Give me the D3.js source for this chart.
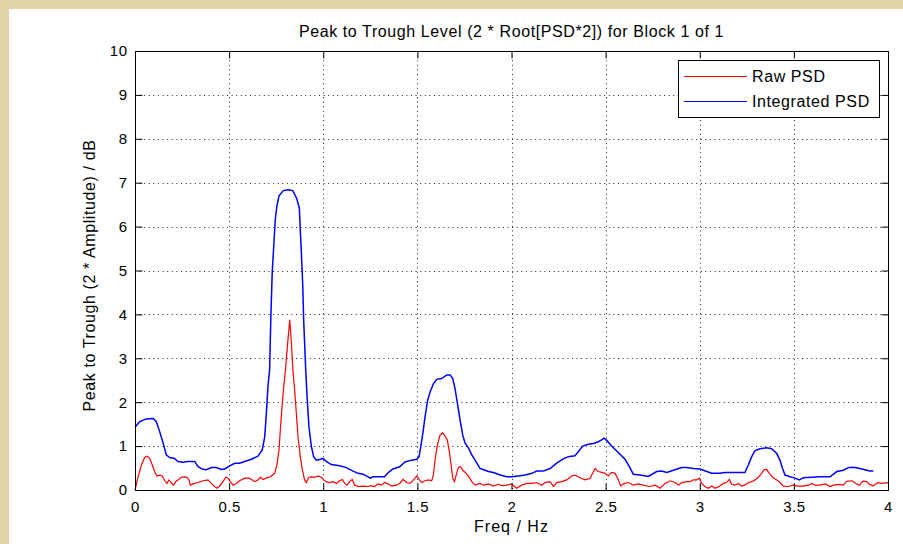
<!DOCTYPE html>
<html>
<head>
<meta charset="utf-8">
<script src="https://cdn.jsdelivr.net/npm/d3@7"></script>
<style>
  body { margin: 0; background: #ffffff; }
  svg text { font-family: "Liberation Sans", Arial, sans-serif; fill: #000; }
</style>
</head>
<body>
<svg id="chart" width="903" height="544"></svg>
<script>
// data
const blueFreq = [0.000,0.025,0.060,0.096,0.113,0.131,0.152,0.166,0.184,0.210,0.228,0.255,0.280,0.317,0.335,0.360,0.379,0.405,0.432,0.459,0.476,0.503,0.530,0.556,0.583,0.618,0.653,0.676,0.689,0.698,0.706,0.715,0.722,0.729,0.738,0.745,0.753,0.765,0.788,0.814,0.838,0.859,0.873,0.878,0.884,0.891,0.896,0.907,0.914,0.924,0.937,0.949,0.963,0.986,0.999,1.016,1.043,1.087,1.123,1.158,1.185,1.211,1.229,1.250,1.264,1.300,1.326,1.344,1.370,1.406,1.434,1.470,1.497,1.509,1.518,1.529,1.541,1.553,1.568,1.585,1.603,1.629,1.656,1.674,1.688,1.700,1.713,1.727,1.741,1.754,1.771,1.789,1.816,1.833,1.851,1.878,1.904,1.940,1.975,2.000,2.037,2.072,2.108,2.134,2.169,2.205,2.240,2.275,2.302,2.337,2.355,2.378,2.408,2.435,2.461,2.479,2.491,2.506,2.532,2.568,2.603,2.626,2.647,2.683,2.727,2.771,2.798,2.825,2.860,2.904,2.930,2.966,3.001,3.037,3.063,3.107,3.134,3.187,3.240,3.258,3.276,3.294,3.320,3.355,3.382,3.409,3.426,3.440,3.453,3.480,3.506,3.529,3.550,3.595,3.639,3.692,3.728,3.763,3.789,3.816,3.851,3.887,3.905,3.922];
const blueLevel = [1.43,1.56,1.62,1.63,1.56,1.33,1.03,0.80,0.74,0.72,0.65,0.63,0.65,0.65,0.53,0.47,0.46,0.51,0.51,0.47,0.48,0.55,0.61,0.61,0.65,0.70,0.77,0.91,1.21,1.75,2.35,2.73,3.99,4.97,5.62,6.15,6.45,6.70,6.82,6.84,6.82,6.64,6.42,5.92,5.39,4.67,3.87,2.73,2.13,1.44,0.99,0.76,0.68,0.70,0.72,0.65,0.58,0.55,0.51,0.43,0.38,0.36,0.32,0.27,0.30,0.30,0.30,0.39,0.48,0.53,0.64,0.68,0.70,0.76,0.98,1.29,1.67,2.01,2.24,2.42,2.52,2.54,2.62,2.62,2.54,2.31,1.97,1.59,1.25,1.06,0.96,0.80,0.61,0.49,0.46,0.42,0.40,0.34,0.30,0.30,0.32,0.34,0.38,0.43,0.43,0.49,0.61,0.71,0.76,0.78,0.87,1.00,1.04,1.06,1.10,1.14,1.18,1.13,1.00,0.85,0.70,0.53,0.36,0.34,0.31,0.42,0.43,0.40,0.45,0.51,0.51,0.49,0.48,0.42,0.38,0.38,0.40,0.40,0.40,0.57,0.76,0.90,0.94,0.96,0.94,0.83,0.68,0.49,0.34,0.30,0.27,0.23,0.28,0.29,0.30,0.30,0.42,0.45,0.51,0.52,0.49,0.45,0.43,0.43];

const redFreq = [0.000,0.016,0.034,0.051,0.064,0.078,0.092,0.104,0.117,0.131,0.145,0.158,0.170,0.180,0.193,0.205,0.216,0.228,0.246,0.264,0.276,0.287,0.294,0.308,0.335,0.361,0.388,0.405,0.423,0.436,0.450,0.467,0.482,0.494,0.506,0.521,0.538,0.556,0.583,0.606,0.623,0.636,0.653,0.666,0.680,0.698,0.719,0.742,0.754,0.765,0.772,0.781,0.790,0.799,0.810,0.822,0.830,0.839,0.848,0.857,0.866,0.878,0.889,0.901,0.910,0.924,0.937,0.954,0.972,0.990,1.002,1.016,1.034,1.052,1.070,1.087,1.101,1.114,1.126,1.140,1.154,1.167,1.185,1.211,1.238,1.255,1.273,1.291,1.309,1.326,1.344,1.362,1.388,1.406,1.424,1.443,1.461,1.479,1.497,1.511,1.523,1.541,1.559,1.576,1.585,1.594,1.606,1.620,1.634,1.647,1.659,1.670,1.679,1.688,1.697,1.706,1.718,1.730,1.741,1.754,1.771,1.789,1.807,1.833,1.851,1.878,1.904,1.930,1.948,1.975,2.000,2.027,2.054,2.081,2.108,2.134,2.161,2.178,2.205,2.223,2.240,2.267,2.293,2.320,2.337,2.364,2.390,2.417,2.431,2.444,2.461,2.479,2.497,2.514,2.532,2.550,2.568,2.580,2.594,2.621,2.647,2.674,2.700,2.736,2.763,2.789,2.816,2.842,2.869,2.887,2.904,2.930,2.948,2.966,2.984,2.998,3.010,3.028,3.046,3.063,3.081,3.107,3.125,3.143,3.157,3.169,3.187,3.205,3.222,3.240,3.258,3.276,3.294,3.311,3.329,3.341,3.355,3.370,3.387,3.409,3.426,3.444,3.471,3.497,3.524,3.550,3.577,3.595,3.612,3.639,3.666,3.692,3.710,3.737,3.763,3.781,3.808,3.830,3.848,3.866,3.887,3.901,3.922,3.943,3.966,3.993,4.000];
const redLevel = [0.00,0.30,0.57,0.74,0.77,0.72,0.57,0.42,0.32,0.34,0.32,0.21,0.15,0.23,0.17,0.11,0.19,0.23,0.29,0.30,0.29,0.23,0.11,0.14,0.17,0.21,0.23,0.15,0.08,0.04,0.09,0.19,0.29,0.27,0.19,0.11,0.15,0.21,0.27,0.27,0.23,0.19,0.23,0.29,0.24,0.27,0.30,0.38,0.57,0.91,1.37,1.90,2.35,2.73,3.30,3.88,3.40,2.73,2.28,1.75,1.21,0.76,0.46,0.23,0.17,0.29,0.30,0.29,0.32,0.29,0.23,0.19,0.17,0.19,0.15,0.21,0.24,0.15,0.11,0.19,0.24,0.11,0.08,0.09,0.08,0.10,0.08,0.14,0.11,0.17,0.14,0.09,0.11,0.15,0.24,0.17,0.15,0.23,0.32,0.23,0.17,0.21,0.23,0.21,0.34,0.68,1.02,1.25,1.30,1.23,1.14,0.87,0.57,0.26,0.19,0.34,0.52,0.53,0.45,0.40,0.32,0.19,0.11,0.15,0.11,0.14,0.09,0.13,0.10,0.11,0.14,0.04,0.11,0.15,0.15,0.17,0.11,0.17,0.19,0.08,0.17,0.19,0.23,0.32,0.34,0.28,0.23,0.26,0.38,0.49,0.42,0.40,0.38,0.32,0.40,0.38,0.23,0.09,0.14,0.17,0.11,0.14,0.11,0.08,0.11,0.04,0.15,0.21,0.17,0.11,0.17,0.19,0.19,0.23,0.23,0.27,0.15,0.08,0.04,0.09,0.04,0.09,0.15,0.17,0.24,0.13,0.11,0.15,0.09,0.11,0.17,0.19,0.23,0.29,0.38,0.46,0.47,0.38,0.29,0.23,0.17,0.09,0.08,0.11,0.09,0.09,0.11,0.15,0.11,0.11,0.14,0.08,0.11,0.13,0.11,0.20,0.21,0.15,0.11,0.20,0.19,0.13,0.09,0.17,0.15,0.17,0.15];

const xTicks = [0, 0.5, 1, 1.5, 2, 2.5, 3, 3.5, 4];
const yTicks = [0, 1, 2, 3, 4, 5, 6, 7, 8, 9, 10];
const seriesNames = ["Raw PSD", "Integrated PSD"];
const seriesColors = ["#ff0000", "#0000ff"];

const titleText = "Peak to Trough Level (2 * Root[PSD*2]) for Block 1 of 1";
const xLabel = "Freq / Hz";
const yLabel = "Peak to Trough (2 * Amplitude) / dB";

const svg = d3.select("#chart");

// beige frame strips on top and left
svg.append("rect").attr("x", 0).attr("y", 0).attr("width", 903).attr("height", 9).attr("fill", "#e2d3a5");
svg.append("rect").attr("x", 0).attr("y", 0).attr("width", 9).attr("height", 544).attr("fill", "#e2d3a5");

const plotLeft = 135, plotTop = 51, width = 753, height = 439;
const x = d3.scaleLinear().domain([0, 4]).range([0, width]);
const y = d3.scaleLinear().domain([0, 10]).range([height, 0]);

const g = svg.append("g").attr("transform", `translate(${plotLeft},${plotTop})`);

// dotted grid
g.append("g").selectAll("line")
  .data(xTicks.slice(1, -1))
  .join("line")
  .attr("x1", d => Math.round(x(d)) + 0.5).attr("x2", d => Math.round(x(d)) + 0.5)
  .attr("y1", 0).attr("y2", height)
  .attr("stroke", "#222").attr("stroke-width", 1).attr("stroke-dasharray", "1,3.6");
g.append("g").selectAll("line")
  .data(yTicks.slice(1, -1))
  .join("line")
  .attr("y1", d => Math.round(y(d)) + 0.5).attr("y2", d => Math.round(y(d)) + 0.5)
  .attr("x1", 0).attr("x2", width)
  .attr("stroke", "#222").attr("stroke-width", 1).attr("stroke-dasharray", "1,3.6");

// curves
const line = d3.line().x(d => x(d[0])).y(d => y(d[1]));
g.append("path")
  .datum(redFreq.map((f, i) => [f, redLevel[i]]))
  .attr("d", line).attr("fill", "none").attr("stroke", seriesColors[0]).attr("stroke-width", 1.2);
g.append("path")
  .datum(blueFreq.map((f, i) => [f, blueLevel[i]]))
  .attr("d", line).attr("fill", "none").attr("stroke", seriesColors[1]).attr("stroke-width", 1.5);

// axes, ticks pointing inward on all four sides
function styleAxis(sel) {
  sel.select(".domain").remove();
  sel.selectAll(".tick line").attr("stroke", "#000");
  sel.selectAll("text").style("font-size", "15px").style("letter-spacing", "0.5px").attr("fill", "#000");
}
g.append("g").attr("transform", `translate(0,${height + 0.5})`)
  .call(d3.axisBottom(x).tickValues(xTicks).tickFormat(d3.format("")).tickSizeInner(-7).tickSizeOuter(0).tickPadding(11))
  .call(styleAxis);
g.append("g").attr("transform", "translate(0.5,0)")
  .call(d3.axisLeft(y).tickValues(yTicks).tickFormat(d3.format("")).tickSizeInner(-7).tickSizeOuter(0).tickPadding(8))
  .call(styleAxis);
g.append("g").attr("transform", "translate(0,0.5)")
  .call(d3.axisTop(x).tickValues(xTicks).tickFormat("").tickSizeInner(-7).tickSizeOuter(0))
  .call(styleAxis);
g.append("g").attr("transform", `translate(${width + 0.5},0)`)
  .call(d3.axisRight(y).tickValues(yTicks).tickFormat("").tickSizeInner(-7).tickSizeOuter(0))
  .call(styleAxis);

g.append("rect").attr("x", 0.5).attr("y", 0.5).attr("width", width).attr("height", height)
  .attr("fill", "none").attr("stroke", "#000").attr("stroke-width", 1);

// legend
const lg = svg.append("g").attr("transform", "translate(678,60)");
lg.append("rect").attr("x", 0.5).attr("y", 0.5).attr("width", 201).attr("height", 57)
  .attr("fill", "#fff").attr("stroke", "#000");
seriesNames.forEach((name, i) => {
  const ly = 16.5 + i * 25;
  lg.append("line").attr("x1", 6).attr("x2", 69).attr("y1", ly).attr("y2", ly)
    .attr("stroke", seriesColors[i]).attr("stroke-width", 1.2);
  lg.append("text").attr("x", 74).attr("y", ly + 5.5)
    .style("font-size", "16px").style("letter-spacing", "0.6px").text(name);
});

// titles
svg.append("text").attr("x", plotLeft + width / 2).attr("y", 36.5).attr("text-anchor", "middle")
  .style("font-size", "16px").style("letter-spacing", "0.6px").text(titleText);
svg.append("text").attr("x", plotLeft + width / 2).attr("y", 532).attr("text-anchor", "middle")
  .style("font-size", "16px").style("letter-spacing", "1px").text(xLabel);
svg.append("text").attr("transform", `translate(95,${plotTop + height / 2 + 5}) rotate(-90)`)
  .attr("text-anchor", "middle").style("font-size", "16px").style("letter-spacing", "0.6px").text(yLabel);
</script>
</body>
</html>
